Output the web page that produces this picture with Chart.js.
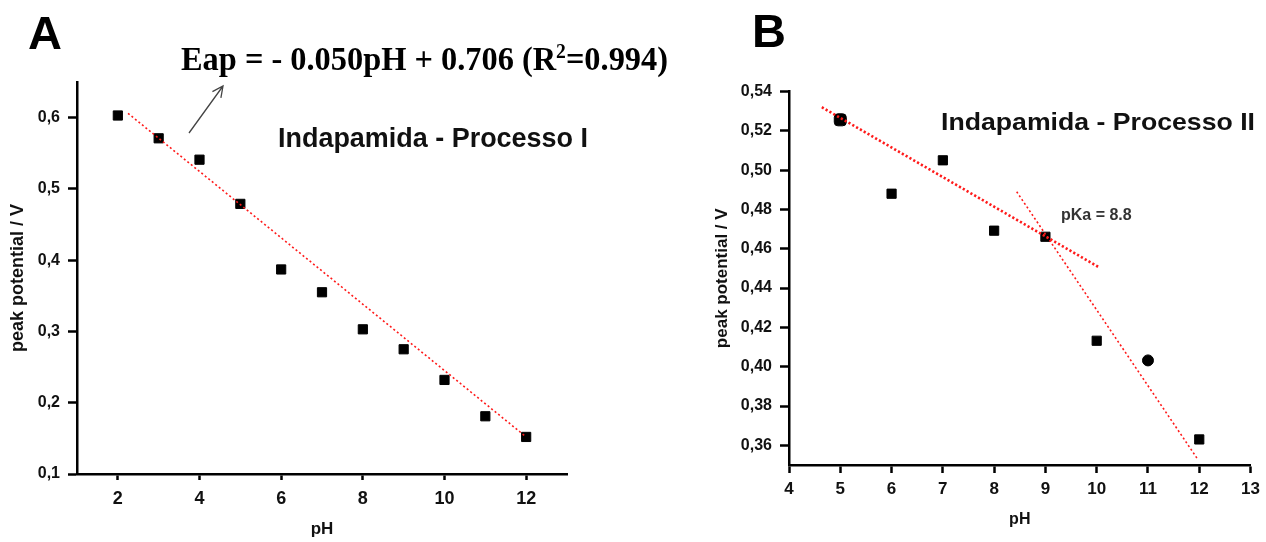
<!DOCTYPE html>
<html>
<head>
<meta charset="utf-8">
<script src="https://cdn.jsdelivr.net/npm/chart.js@4.4.0/dist/chart.umd.min.js"></script>
<style>
  html, body { margin: 0; padding: 0; background: #fff; }
  #wrap { position: relative; width: 1266px; height: 542px; }
  #wrap canvas { position: absolute; left: 0; top: 0; }
</style>
</head>
<body>
<div id="wrap">
  <canvas id="chartA" width="1266" height="542"></canvas>
  <canvas id="chartB" width="1266" height="542"></canvas>
</div>
<script>
// Processo I
const phA = [2, 3, 4, 5, 6, 7, 8, 9, 10, 11, 12];
const potA = [0.603, 0.571, 0.541, 0.479, 0.387, 0.355, 0.303, 0.275, 0.232, 0.181, 0.152];
const fitAph = [2.25, 12];
const fitApot = [0.606, 0.152];
const xTicksA = [2, 4, 6, 8, 10, 12];
const yTicksA = [0.1, 0.2, 0.3, 0.4, 0.5, 0.6];

// Processo II
const phB = [5, 6, 7, 8, 9, 10, 11, 12];
const potB = [0.5256, 0.488, 0.505, 0.4692, 0.4661, 0.4132, 0.4032, 0.363];
const fitB1ph = [4.64, 10.05];
const fitB1pot = [0.532, 0.4505];
const fitB2ph = [8.44, 11.96];
const fitB2pot = [0.489, 0.3533];
const xTicksB = [4, 5, 6, 7, 8, 9, 10, 11, 12, 13];
const yTicksB = [0.36, 0.38, 0.40, 0.42, 0.44, 0.46, 0.48, 0.50, 0.52, 0.54];

const SANS = '"Liberation Sans", Arial, sans-serif';
const INK = '#111';

const pts = (xs, ys) => xs.map((x, i) => ({ x: x, y: ys[i] }));
const comma = d => v => v.toFixed(d).replace('.', ',');

function axis(o) {
  return {
    type: 'linear',
    position: o.position,
    min: o.min,
    max: o.max,
    afterBuildTicks: s => { s.ticks = o.ticks.map(v => ({ value: v })); },
    afterFit: s => {
      if (o.position === 'left') s.width = o.size; else s.height = o.size;
    },
    border: { display: true, color: '#000', width: 2.5 },
    grid: {
      display: true, drawOnChartArea: false, drawTicks: true,
      tickLength: o.tickLength, tickWidth: 2.5, tickColor: '#000', color: '#000'
    },
    ticks: {
      color: INK, padding: o.pad,
      font: { family: SANS, size: o.fontSize, weight: 'bold' },
      callback: o.fmt
    },
    title: {
      display: true, text: o.title, color: INK,
      font: { family: SANS, size: o.titleSize, weight: 'bold' },
      padding: o.titlePad
    }
  };
}

// text squeezed or stretched to a given width
function fitText(ctx, text, x, y, w, font) {
  ctx.font = font;
  const m = ctx.measureText(text).width;
  ctx.save();
  ctx.translate(x, y);
  ctx.scale(w / m, 1);
  ctx.fillText(text, 0, 0);
  ctx.restore();
}

const textA = {
  id: 'textA',
  afterDraw(chart) {
    const ctx = chart.ctx;
    ctx.save();
    ctx.fillStyle = '#000';
    ctx.textBaseline = 'alphabetic';
    ctx.textAlign = 'left';
    ctx.font = 'bold 47px ' + SANS;
    ctx.fillText('A', 28, 49);

    // equation with superscript
    const big = 'bold 33px "Liberation Serif", "Times New Roman", serif';
    const small = 'bold 20px "Liberation Serif", "Times New Roman", serif';
    const p1 = 'Eap = - 0.050pH + 0.706 (R', p2 = '2', p3 = '=0.994)';
    ctx.font = big; const w1 = ctx.measureText(p1).width, w3 = ctx.measureText(p3).width;
    ctx.font = small; const w2 = ctx.measureText(p2).width;
    const k = 487 / (w1 + w2 + w3);
    ctx.translate(181, 70);
    ctx.scale(k, 1);
    ctx.font = big; ctx.fillText(p1, 0, 0);
    ctx.font = small; ctx.fillText(p2, w1, -12);
    ctx.font = big; ctx.fillText(p3, w1 + w2, 0);
    ctx.setTransform(1, 0, 0, 1, 0, 0);

    // arrow to the equation
    ctx.strokeStyle = '#444';
    ctx.lineWidth = 1.3;
    const x0 = 189, y0 = 133, x1 = 223, y1 = 86;
    const a = Math.atan2(y1 - y0, x1 - x0);
    ctx.beginPath();
    ctx.moveTo(x0, y0); ctx.lineTo(x1, y1);
    ctx.moveTo(x1 - 12 * Math.cos(a - 0.45), y1 - 12 * Math.sin(a - 0.45));
    ctx.lineTo(x1, y1);
    ctx.lineTo(x1 - 12 * Math.cos(a + 0.45), y1 - 12 * Math.sin(a + 0.45));
    ctx.stroke();

    ctx.fillStyle = INK;
    fitText(ctx, 'Indapamida - Processo I', 278, 147, 310, 'bold 27px ' + SANS);
    ctx.restore();
  }
};

const textB = {
  id: 'textB',
  afterDraw(chart) {
    const ctx = chart.ctx;
    ctx.save();
    ctx.fillStyle = '#000';
    ctx.textBaseline = 'alphabetic';
    ctx.textAlign = 'left';
    ctx.font = 'bold 47px ' + SANS;
    ctx.fillText('B', 752, 47);
    ctx.fillStyle = INK;
    fitText(ctx, 'Indapamida - Processo II', 941, 130, 314, 'bold 24px ' + SANS);
    ctx.fillStyle = '#333';
    ctx.font = 'bold 16px ' + SANS;
    ctx.fillText('pKa = 8.8', 1061, 220);
    ctx.restore();
  }
};

const common = {
  responsive: false,
  animation: false,
  events: [],
  plugins: { legend: { display: false }, tooltip: { enabled: false } }
};

new Chart(document.getElementById('chartA'), {
  type: 'scatter',
  data: {
    datasets: [
      {
        data: pts(fitAph, fitApot), showLine: true, fill: false,
        borderColor: '#ff1a1a', borderWidth: 1.6, borderDash: [2, 2.5],
        pointRadius: 0, order: 1
      },
      {
        data: pts(phA, potA), pointStyle: 'rect', pointRadius: 6.5,
        backgroundColor: '#000', borderColor: '#000', borderWidth: 1, order: 2
      }
    ]
  },
  options: Object.assign({}, common, {
    layout: { padding: { left: 0, top: 82, right: 699, bottom: 0 } },
    scales: {
      x: axis({ position: 'bottom', min: 1, max: 13, ticks: xTicksA, size: 68, tickLength: 6, pad: 8,
                fontSize: 18, fmt: v => String(v), title: 'pH', titleSize: 17,
                titlePad: { top: 0, bottom: 2.8 } }),
      y: axis({ position: 'left', min: 0.1, max: 0.65, ticks: yTicksA, size: 77, tickLength: 9, pad: 8,
                fontSize: 16, fmt: comma(1), title: 'peak potential / V', titleSize: 18,
                titlePad: { top: 7.2, bottom: 0 } })
    }
  }),
  plugins: [textA]
});

new Chart(document.getElementById('chartB'), {
  type: 'scatter',
  data: {
    datasets: [
      {
        data: pts(fitB1ph, fitB1pot), showLine: true, fill: false,
        borderColor: '#ff1a1a', borderWidth: 2.6, borderDash: [2.2, 2.2],
        pointRadius: 0, order: 1
      },
      {
        data: pts(fitB2ph, fitB2pot), showLine: true, fill: false,
        borderColor: '#ff1a1a', borderWidth: 1.6, borderDash: [2, 2.5],
        pointRadius: 0, order: 1
      },
      {
        data: pts(phB, potB),
        pointStyle: ['rectRounded', 'rect', 'rect', 'rect', 'rect', 'rect', 'circle', 'rect'],
        pointRadius: [7, 6.5, 6.5, 6.5, 6.5, 6.5, 5.5, 6.5],
        backgroundColor: '#000', borderColor: '#000', borderWidth: 1, order: 2
      }
    ]
  },
  options: Object.assign({}, common, {
    layout: { padding: { left: 680, top: 91.5, right: 12, bottom: 0 } },
    scales: {
      x: axis({ position: 'bottom', min: 4, max: 13, ticks: xTicksB, size: 77, tickLength: 8, pad: 6,
                fontSize: 17, fmt: v => String(v), title: 'pH', titleSize: 16,
                titlePad: { top: 0, bottom: 13 } }),
      y: axis({ position: 'left', min: 0.35, max: 0.54, ticks: yTicksB, size: 109, tickLength: 9, pad: 8,
                fontSize: 16, fmt: comma(2), title: 'peak potential / V', titleSize: 17,
                titlePad: { top: 31.8, bottom: 0 } })
    }
  }),
  plugins: [textB]
});
</script>
</body>
</html>
